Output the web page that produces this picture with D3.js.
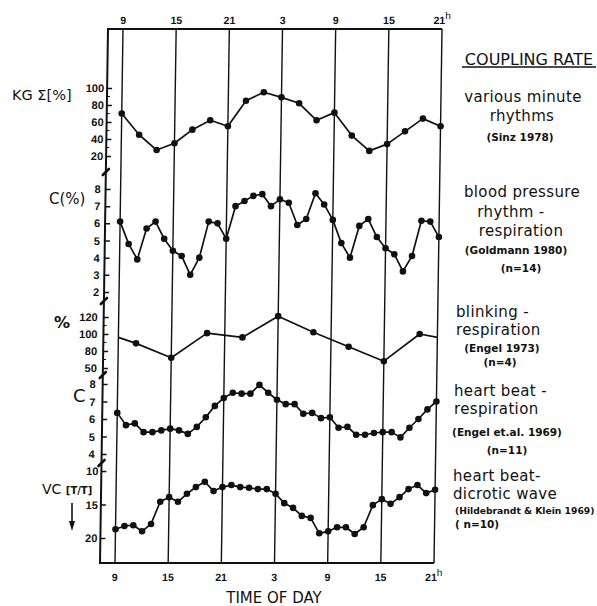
<!DOCTYPE html>
<html>
<head>
<meta charset="utf-8">
<script src="https://cdnjs.cloudflare.com/ajax/libs/d3/7.8.5/d3.min.js"></script>
<style>
  body { margin: 0; background: #fff; }
  text { fill: #111; }
</style>
</head>
<body>
<svg id="chart" width="597" height="606"></svg>
<script>
// time in hours, 9 = 9h day one ... 45 = 21h day two
var hourTicks = [9, 15, 21, 27, 33, 39, 45];
var hourLabels = ["9", "15", "21", "3", "9", "15", "21"];

var twoHourly = [9, 11, 13, 15, 17, 19, 21, 23, 25, 27, 29, 31, 33, 35, 37, 39, 41, 43, 45];
var hourly = [9, 10, 11, 12, 13, 14, 15, 16, 17, 18, 19, 20, 21, 22, 23, 24, 25, 26, 27,
              28, 29, 30, 31, 32, 33, 34, 35, 36, 37, 38, 39, 40, 41, 42, 43, 44, 45];

// various minute rhythms, KG sum [%]
var kgValues = [70, 45, 27, 35, 51, 62, 55, 85, 95, 89, 82, 62, 71, 44, 26, 34, 49, 64, 55];
var kgTicks = [20, 40, 60, 80, 100];

// blood pressure rhythm - respiration, C(%)
var bpValues = [6.1, 4.8, 3.9, 5.7, 6.1, 5.1, 4.4, 4.1, 3.0, 4.0, 6.1, 6.0, 5.1, 7.0, 7.3, 7.6, 7.7, 7.0, 7.4,
                7.2, 5.9, 6.25, 7.75, 7.1, 6.2, 4.85, 4.0, 5.85, 6.25, 5.2, 4.55, 4.2, 3.2, 4.1, 6.15, 6.1, 5.2];
var bpTicks = [2, 3, 4, 5, 6, 7, 8];

// blinking - respiration, %
var blinkHours = [9, 11, 15, 19, 23, 27, 31, 35, 39, 43, 45];
var blinkValues = [96, 89, 72, 101, 96, 121, 102, 85, 68, 100, 96];
var blinkTicks = [60, 80, 100, 120];
var blinkTickLabels = ["50", "80", "100", "120"];

// heart beat - respiration, C
var hbValues = [6.35, 5.65, 5.75, 5.25, 5.25, 5.35, 5.45, 5.35, 5.15, 5.55, 6.1, 6.75, 7.2, 7.5, 7.45, 7.45, 7.95, 7.5, 7.1,
                6.85, 6.85, 6.3, 6.35, 6.05, 6.1, 5.5, 5.55, 5.1, 5.1, 5.2, 5.25, 5.25, 4.95, 5.5, 6.0, 6.55, 7.0];
var hbTicks = [4, 5, 6, 7, 8];

// heart beat - dicrotic wave, VC [T/T]
var vcValues = [18.7, 18.2, 18.1, 19.0, 17.9, 14.6, 13.9, 14.6, 13.4, 12.4, 11.6, 13.0, 12.4, 12.1, 12.4, 12.5, 12.7, 12.7, 13.4,
                14.8, 15.5, 16.7, 17.0, 19.3, 19.0, 18.4, 18.4, 19.4, 18.4, 15.1, 14.2, 14.9, 13.9, 12.7, 12.1, 13.3, 12.8];
var vcTicks = [10, 15, 20];

var svg = d3.select("#chart");
var ink = "#111";
var yTop = 29, yBottom = 563;

// the scanned figure leans a little to the left
var lean = -8 / 534;
var plot = svg.append("g")
    .attr("transform", "translate(" + (-yTop * lean) + ",0) skewX(" + (Math.atan(lean) * 180 / Math.PI) + ")");

var x = d3.scaleLinear().domain([9, 45]).range([123, 442]);
var axisX = x(9) - 15;

// vertical hour lines
plot.selectAll(".grid")
    .data(hourTicks)
    .enter()
    .append("line")
    .attr("class", "grid")
    .attr("x1", function(d) { return x(d); })
    .attr("x2", function(d) { return x(d); })
    .attr("y1", yTop)
    .attr("y2", yBottom)
    .attr("stroke", ink)
    .attr("stroke-width", 1.4);

// frame: top, left axis, bottom
plot.append("path")
    .attr("d", "M" + x(45) + "," + yTop + "H" + axisX + "V" + yBottom + "H" + x(45))
    .attr("fill", "none")
    .attr("stroke", ink)
    .attr("stroke-width", 2);

// hour labels top and bottom
[yTop - 9, yBottom + 14].forEach(function(ly) {
    var lab = plot.selectAll(null)
        .data(hourTicks)
        .enter()
        .append("text")
        .attr("x", function(d) { return x(d); })
        .attr("y", ly)
        .attr("dy", "0.35em")
        .attr("text-anchor", "middle")
        .attr("font-family", "Liberation Sans, Arial, sans-serif")
        .attr("font-weight", "bold")
        .attr("font-size", "10.5px")
        .text(function(d, i) { return hourLabels[i]; });
    lab.filter(function(d, i) { return i === hourTicks.length - 1; })
        .append("tspan")
        .attr("dy", "-0.45em")
        .attr("font-size", "10px")
        .attr("font-weight", "normal")
        .text("h");
});

var panels = [
    { hours: twoHourly, values: kgValues, ticks: kgTicks, labels: kgTicks, minor: true, dotsAll: true, pad: 3,
      y: d3.scaleLinear().domain([20, 100]).range([156, 88]) },
    { hours: hourly, values: bpValues, ticks: bpTicks, labels: bpTicks, minor: false, dotsAll: true, pad: 5,
      y: d3.scaleLinear().domain([2, 8]).range([292, 189]) },
    { hours: blinkHours, values: blinkValues, ticks: blinkTicks, labels: blinkTickLabels, minor: true, dotsAll: false, pad: 6,
      y: d3.scaleLinear().domain([60, 120]).range([368, 317]) },
    { hours: hourly, values: hbValues, ticks: hbTicks, labels: hbTicks, minor: false, dotsAll: true, pad: 7,
      y: d3.scaleLinear().domain([4, 8]).range([454, 384]) },
    { hours: hourly, values: vcValues, ticks: vcTicks, labels: vcTicks, minor: false, dotsAll: true, pad: 3,
      y: d3.scaleLinear().domain([10, 20]).range([471, 538]) }
];

panels.forEach(function(p) {
    var ax = d3.axisLeft(p.y)
        .tickValues(p.ticks)
        .tickFormat(function(d, i) { return p.labels[i]; })
        .tickSizeInner(-5)
        .tickSizeOuter(0)
        .tickPadding(p.pad);
    var g = plot.append("g")
        .attr("transform", "translate(" + axisX + ",0)")
        .call(ax);
    g.select(".domain").remove();
    g.selectAll(".tick line").attr("stroke", ink).attr("stroke-width", 1.5);
    g.selectAll(".tick text")
        .attr("fill", ink)
        .attr("font-family", "Liberation Sans, Arial, sans-serif")
        .attr("font-weight", "bold")
        .attr("font-size", "11px");

    if (p.minor) {
        var mids = p.ticks.slice(1).map(function(t, i) { return (t + p.ticks[i]) / 2; });
        g.selectAll(".minor")
            .data(mids)
            .enter()
            .append("line")
            .attr("x1", 0)
            .attr("x2", 3)
            .attr("y1", function(d) { return p.y(d); })
            .attr("y2", function(d) { return p.y(d); })
            .attr("stroke", ink)
            .attr("stroke-width", 1.2);
    }

    var pts = p.hours.map(function(h, i) { return [h, p.values[i]]; });
    var line = d3.line()
        .x(function(d) { return x(d[0]); })
        .y(function(d) { return p.y(d[1]); });

    plot.append("path")
        .attr("d", line(pts))
        .attr("fill", "none")
        .attr("stroke", ink)
        .attr("stroke-width", 1.7)
        .attr("stroke-linejoin", "round");

    var dotPts = p.dotsAll ? pts : pts.slice(1, -1);
    plot.selectAll(null)
        .data(dotPts)
        .enter()
        .append("circle")
        .attr("cx", function(d) { return x(d[0]); })
        .attr("cy", function(d) { return p.y(d[1]); })
        .attr("r", 3.3)
        .attr("fill", ink);
});

// axis break marks
[172, 301, 375, 463].forEach(function(by) {
    plot.append("line")
        .attr("x1", axisX - 3).attr("y1", by + 3)
        .attr("x2", axisX + 3).attr("y2", by - 3)
        .attr("stroke", ink)
        .attr("stroke-width", 2.6)
        .attr("stroke-linecap", "round");
});

// left titles
var sans = "DejaVu Sans, Verdana, sans-serif";
function label(t, lx, ly, size, anchor, weight) {
    return svg.append("text")
        .attr("x", lx)
        .attr("y", ly)
        .attr("dy", "0.35em")
        .attr("text-anchor", anchor || "start")
        .attr("font-family", sans)
        .attr("font-size", size + "px")
        .attr("font-weight", weight || "normal")
        .text(t);
}

label("KG \u03A3[%]", 12, 95, 14.5);
label("C(%)", 49, 199, 15);
label("%", 54, 322, 16, "start", "bold");
label("C", 73, 396, 18);
var vc = label("VC ", 42, 489, 14);
vc.append("tspan").attr("font-size", "10px").attr("font-weight", "bold").text("[T/T]");

// downward arrow under VC
svg.append("line")
    .attr("x1", 72).attr("y1", 503)
    .attr("x2", 72).attr("y2", 524)
    .attr("stroke", ink)
    .attr("stroke-width", 1.6);
svg.append("path")
    .attr("d", "M69,521L75,521L72,531Z")
    .attr("fill", ink);

label("TIME OF DAY", 274, 598, 15, "middle");

// right side legend texts
var big = 15, small = 10.5;
var legend = [
    ["various minute", 523, 97, big], ["rhythms", 522, 116, big], ["(Sinz 1978)", 520, 137, small],
    ["blood pressure", 522, 192, big], ["rhythm -", 511, 212, big], ["respiration", 521, 231, big],
    ["(Goldmann 1980)", 516, 250, small], ["(n=14)", 521, 268, small],
    ["blinking -", 456, 312, big, "start"], ["respiration", 456, 330, big, "start"],
    ["(Engel 1973)", 502, 348, small], ["(n=4)", 500, 362, small],
    ["heart beat -", 454, 391, big, "start"], ["respiration", 454, 409, big, "start"],
    ["(Engel et.al. 1969)", 507, 432, small], ["(n=11)", 507, 450, small],
    ["heart beat-", 453, 476, big, "start"], ["dicrotic wave", 453, 494, big, "start"],
    ["(Hildebrandt & Klein 1969)", 455, 511, 9.2, "start"], ["( n=10)", 455, 524, small, "start"]
];
legend.forEach(function(l) {
    var t = label(l[0], l[1], l[2], l[3], l[4] || "middle", l[3] < 12 ? "bold" : "normal");
    if (l[3] >= 12) t.attr("letter-spacing", "0.35px");
});

label("COUPLING RATE", 529, 59, 16, "middle");
svg.append("line")
    .attr("x1", 462).attr("x2", 596)
    .attr("y1", 67).attr("y2", 67)
    .attr("stroke", ink)
    .attr("stroke-width", 1.4);
</script>
</body>
</html>
